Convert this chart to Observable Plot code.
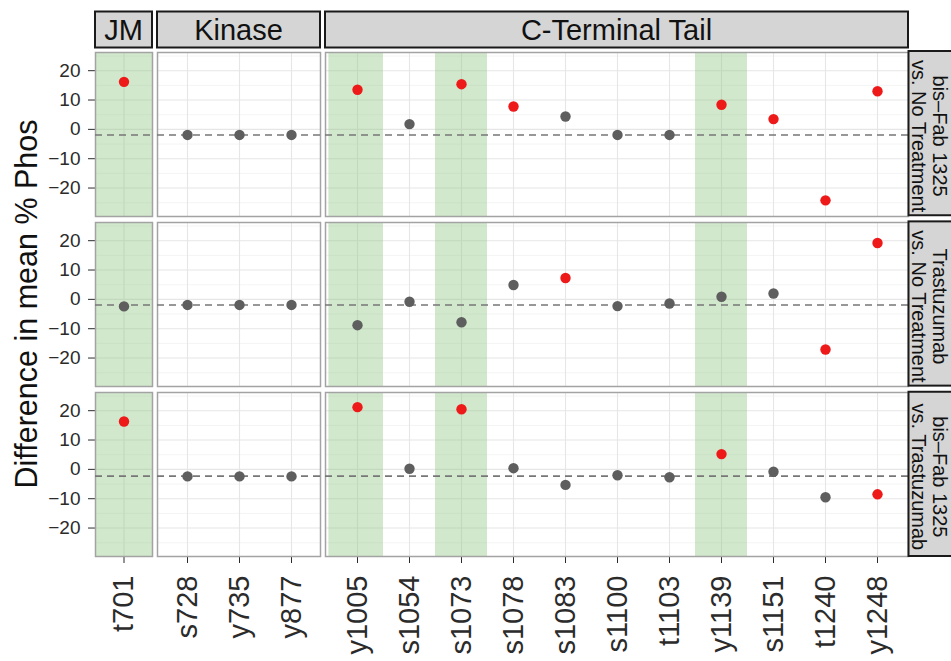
<!DOCTYPE html>
<html><head><meta charset="utf-8">
<script src="https://cdn.jsdelivr.net/npm/d3@7"></script>
<script src="https://cdn.jsdelivr.net/npm/@observablehq/plot@0.6"></script>
<style>
body{margin:0;background:#fff;}
#chart{position:relative;width:951px;height:661px;overflow:hidden;font-family:"Liberation Sans",Arial,sans-serif;}
</style></head><body><div id="chart"></div>
<script>
// ---- data ----
const comparisons = ["bis–Fab 1325\nvs. No Treatment", "Trastuzumab\nvs. No Treatment", "bis–Fab 1325\nvs. Trastuzumab"];
const regions = ["JM", "Kinase", "C-Terminal Tail"];
const jmSites = ["t701"];
const kinaseSites = ["s728", "y735", "y877"];
const ctSites = ["y1005", "s1054", "s1073", "s1078", "s1083", "s1100", "t1103", "y1139", "s1151", "t1240", "y1248"];
const sites = [...jmSites, ...kinaseSites, ...ctSites];
const highlighted = ["t701", "y1005", "s1073", "y1139"];
const yTicks = [-20, -10, 0, 10, 20];
const yMinor = [-25, -15, -5, 5, 15, 25];
const baselines = [-1.9, -1.9, -2.3];
const diffRow1 = [16.2, -1.9, -1.9, -1.9, 13.5, 1.8, 15.4, 7.8, 4.4, -1.9, -1.9, 8.4, 3.5, -24.2, 13.0];
const sigRow1  = [1, 0, 0, 0, 1, 0, 1, 1, 0, 0, 0, 1, 1, 1, 1];
const diffRow2 = [-2.4, -1.9, -1.9, -1.9, -8.8, -0.8, -7.8, 4.9, 7.3, -2.3, -1.4, 0.9, 2.0, -17.1, 19.2];
const sigRow2  = [0, 0, 0, 0, 0, 0, 0, 0, 1, 0, 0, 0, 0, 1, 1];
const diffRow3 = [16.3, -2.4, -2.4, -2.4, 21.2, 0.2, 20.5, 0.4, -5.3, -2.0, -2.7, 5.2, -0.8, -9.5, -8.5];
const sigRow3  = [1, 0, 0, 0, 1, 0, 1, 0, 0, 0, 0, 1, 0, 0, 1];

const diffs = [diffRow1, diffRow2, diffRow3];
const sigs = [sigRow1, sigRow2, sigRow3];
const regionSites = [jmSites, kinaseSites, ctSites];
const regionOf = s => regions[regionSites.findIndex(a => a.includes(s))];

const rows = [];
comparisons.forEach((comp, r) => sites.forEach((site, i) => rows.push({
  comp, site, region: regionOf(site), diff: diffs[r][i], sig: sigs[r][i], base: baselines[r]
})));

// ---- layout ----
const yDomain = [-29.7, 26.2];
const RED = "#ee1a1a", GREY = "#5e5e5e", GREEN = "#8cc67f", GREEN_OP = 0.4;
const TOP = 51, BOTTOM = 105, H = 661;
const cols = [
  {region: "JM", left: 0, marginLeft: 95, width: 152},
  {region: "Kinase", left: 157, marginLeft: 0, width: 163},
  {region: "C-Terminal Tail", left: 325, marginLeft: 0, width: 583}
];
const fmt = d => d < 0 ? "\u2212" + Math.abs(d) : String(d);
const chart = document.getElementById("chart");

cols.forEach((col, ci) => {
  const colSites = regionSites[ci];
  const colData = rows.filter(d => d.region === col.region);
  const hl = highlighted.filter(s => colSites.includes(s));
  const marks = [
    Plot.ruleY(yMinor, {stroke: "#f1f1f1", strokeWidth: 0.8}),
    Plot.ruleY(yTicks, {stroke: "#e6e6e6", strokeWidth: 1.1}),
    Plot.ruleX(colSites, {x: d => d, stroke: "#e6e6e6", strokeWidth: 1.1})
  ];
  if (col.region === "JM") {
    marks.push(Plot.frame({fill: GREEN, fillOpacity: GREEN_OP}));
  } else if (hl.length) {
    const first = hl.filter(s => s === colSites[0]);
    const rest = hl.filter(s => s !== colSites[0]);
    if (first.length) marks.push(Plot.barY(first, {x: d => d, y1: yDomain[0], y2: yDomain[1], fill: GREEN, fillOpacity: GREEN_OP, insetLeft: -2.6}));
    if (rest.length) marks.push(Plot.barY(rest, {x: d => d, y1: yDomain[0], y2: yDomain[1], fill: GREEN, fillOpacity: GREEN_OP}));
  }
  marks.push(
    Plot.frame({stroke: "#a3a3a3", strokeWidth: 1.5}),
    Plot.ruleY(colData, Plot.selectFirst({y: "base", stroke: "#777", strokeWidth: 1.6, strokeDasharray: "7,5"})),
    Plot.dot(colData, {filter: d => !d.sig, x: "site", y: "diff", r: 5.2, fill: GREY, stroke: "none"}),
    Plot.dot(colData, {filter: d => d.sig, x: "site", y: "diff", r: 5.2, fill: RED, stroke: "none"})
  );
  const svg = Plot.plot({
    width: col.width, height: H,
    marginTop: TOP, marginBottom: BOTTOM, marginLeft: col.marginLeft, marginRight: 0,
    style: {background: "transparent", color: "#2b2b2b", fontFamily: "'Liberation Sans', Arial, sans-serif", overflow: "visible"},
    facet: {data: colData, y: "comp"},
    fy: {domain: comparisons, paddingInner: 0.036, paddingOuter: 0, axis: null, label: null},
    x: {type: "band", domain: colSites, paddingInner: 0, paddingOuter: 0.05, tickRotate: -90, tickSize: 7, tickPadding: 12, label: null},
    y: {domain: yDomain, ticks: yTicks, tickFormat: fmt, tickSize: 7, tickPadding: 8, label: null, axis: ci === 0 ? "left" : null},
    marks
  });
  svg.style.position = "absolute";
  svg.style.left = col.left + "px";
  svg.style.top = "0px";
  d3.select(svg).selectAll('[aria-label^="x-axis"]').style("font-size", "29px");
  d3.select(svg).selectAll('[aria-label^="y-axis"]').style("font-size", "19px");
  chart.appendChild(svg);
});

// ---- strips and title ----
const ov = d3.select(chart).append("svg")
  .attr("width", 951).attr("height", 661)
  .style("position", "absolute").style("left", "0px").style("top", "0px")
  .style("font-family", "'Liberation Sans', Arial, sans-serif");

ov.append("text")
  .attr("transform", "translate(37,304) rotate(-90)")
  .attr("text-anchor", "middle")
  .attr("font-size", 30.5).attr("fill", "#111")
  .text("Difference in mean % Phos");

const panelLefts = [95, 157, 325], panelWidths = [57, 163, 583];
regions.forEach((r, i) => {
  ov.append("rect").attr("x", panelLefts[i]).attr("y", 11.5).attr("width", panelWidths[i]).attr("height", 36)
    .attr("fill", "#d5d5d5").attr("stroke", "#1a1a1a").attr("stroke-width", 2);
  ov.append("text").attr("x", panelLefts[i] + panelWidths[i] / 2).attr("y", 29.5)
    .attr("dy", "0.36em").attr("text-anchor", "middle").attr("font-size", 29).attr("fill", "#111").text(r);
});

const step = 505 / (3 - 0.036);
const rowH = step * (1 - 0.036);
comparisons.forEach((c, i) => {
  const y0 = TOP + i * step;
  ov.append("rect").attr("x", 908.5).attr("y", y0).attr("width", 60).attr("height", rowH)
    .attr("fill", "#d5d5d5").attr("stroke", "#1a1a1a").attr("stroke-width", 2);
  const lines = c.split("\n");
  const g = ov.append("text").attr("transform", `translate(0,${y0 + rowH / 2 + 3}) rotate(90)`)
    .attr("text-anchor", "middle").attr("font-size", 20).attr("fill", "#111");
  g.append("tspan").attr("x", 0).attr("y", -933).text(lines[0]);
  g.append("tspan").attr("x", 0).attr("y", -911.5).text(lines[1]);
});
</script></body></html>
